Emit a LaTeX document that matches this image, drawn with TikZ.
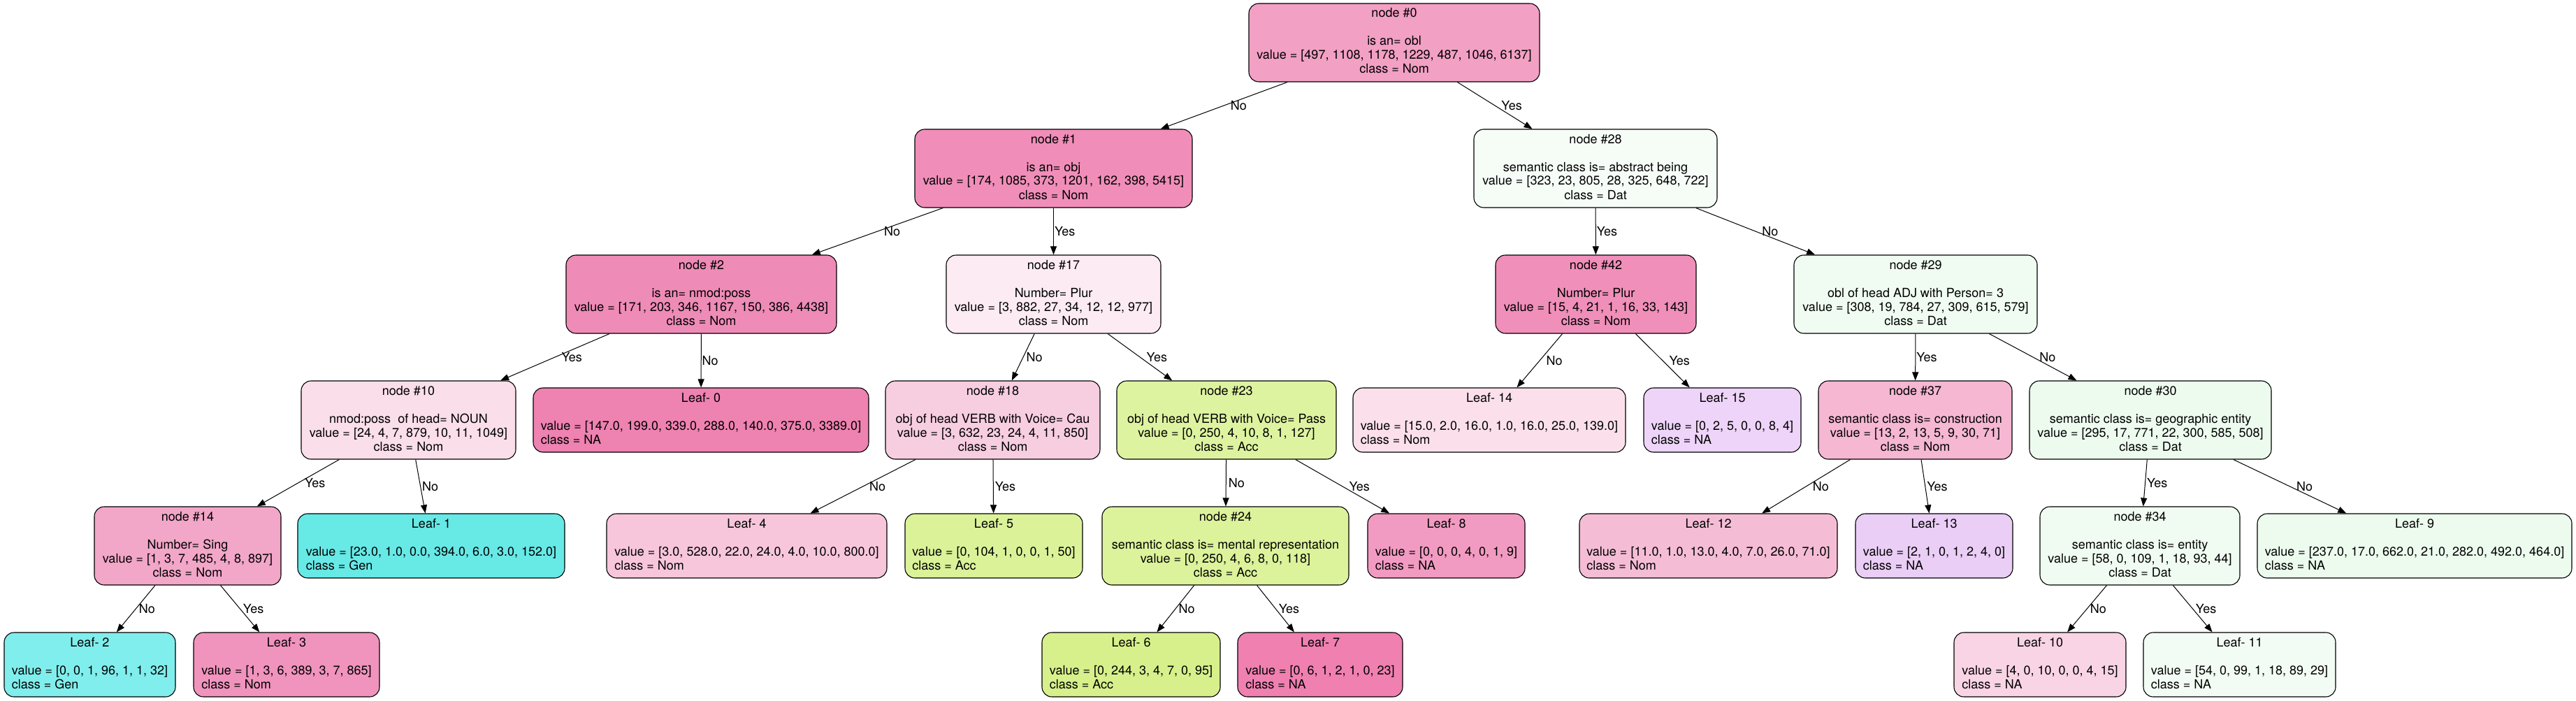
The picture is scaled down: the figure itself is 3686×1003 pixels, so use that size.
\documentclass[tikz,border=0pt]{standalone}
\usepackage{fontspec}
\setmainfont{TeX Gyre Heros}
\usetikzlibrary{arrows.meta}
\newcommand{\itxt}[4]{\begin{tabular}{@{}c@{}}#1\\ \\ #2\\ #3\\ #4\end{tabular}}
\newcommand{\ltxt}[3]{\begin{tabular}{@{}l@{}}\multicolumn{1}{@{}c@{}}{#1}\\ \\ #2\\ #3\end{tabular}}
\definecolor{c0}{RGB}{242,160,196}
\definecolor{c1}{RGB}{240,142,185}
\definecolor{c28}{RGB}{246,253,247}
\definecolor{c2}{RGB}{239,139,183}
\definecolor{c17}{RGB}{252,235,243}
\definecolor{c42}{RGB}{240,143,186}
\definecolor{c29}{RGB}{240,252,241}
\definecolor{c10}{RGB}{250,222,234}
\definecolor{cL0}{RGB}{238,130,177}
\definecolor{c18}{RGB}{247,205,224}
\definecolor{c23}{RGB}{222,243,160}
\definecolor{cL14}{RGB}{251,224,236}
\definecolor{cL15}{RGB}{238,212,248}
\definecolor{c37}{RGB}{245,183,210}
\definecolor{c30}{RGB}{237,251,239}
\definecolor{c14}{RGB}{242,166,200}
\definecolor{cL1}{RGB}{103,233,230}
\definecolor{cL4}{RGB}{247,198,219}
\definecolor{cL5}{RGB}{219,242,153}
\definecolor{c24}{RGB}{220,242,155}
\definecolor{cL8}{RGB}{242,155,194}
\definecolor{cL12}{RGB}{244,189,213}
\definecolor{cL13}{RGB}{234,206,246}
\definecolor{c34}{RGB}{240,252,241}
\definecolor{cL9}{RGB}{236,251,238}
\definecolor{cL2}{RGB}{128,238,236}
\definecolor{cL3}{RGB}{240,147,189}
\definecolor{cL6}{RGB}{215,240,139}
\definecolor{cL7}{RGB}{239,128,176}
\definecolor{cL10}{RGB}{248,212,228}
\definecolor{cL11}{RGB}{243,252,244}
\begin{document}
\begin{tikzpicture}[x=1pt,y=-1pt,
  box/.style={draw=black,line width=1.1pt,rectangle,rounded corners=14pt,
    inner xsep=8pt,inner ysep=6pt,anchor=center,
    font=\fontsize{18}{20}\selectfont,minimum width=#1},
  inode/.style={box=#1,minimum height=112pt},
  leaf/.style={box=#1,minimum height=92pt},
  edge/.style={line width=1pt,-{Triangle[length=12pt,width=9pt]}},
  lab/.style={anchor=west,inner sep=0pt,xshift=#1,font=\fontsize{18}{20}\selectfont},
  lab/.default=9pt]
\fill[white] (0,0) rectangle (3686,1003);
\useasboundingbox (0,0) rectangle (3686,1003);
% level 0
\node[inode=416pt,fill=c0] (n0) at (1995,61) {\itxt{node \#0}{is an= obl}{value = [497, 1108, 1178, 1229, 487, 1046, 6137]}{class = Nom}};
% level 1
\node[inode=397pt,fill=c1] (n1) at (1507.5,241) {\itxt{node \#1}{is an= obj}{value = [174, 1085, 373, 1201, 162, 398, 5415]}{class = Nom}};
\node[inode=348pt,fill=c28] (n28) at (2283,241) {\itxt{node \#28}{semantic class is= abstract being}{value = [323, 23, 805, 28, 325, 648, 722]}{class = Dat}};
% level 2
\node[inode=387pt,fill=c2] (n2) at (1003.5,421) {\itxt{node \#2}{is an= nmod:poss}{value = [171, 203, 346, 1167, 150, 386, 4438]}{class = Nom}};
\node[inode=307pt,fill=c17] (n17) at (1507.5,421) {\itxt{node \#17}{Number= Plur}{value = [3, 882, 27, 34, 12, 12, 977]}{class = Nom}};
\node[inode=287pt,fill=c42] (n42) at (2283.5,421) {\itxt{node \#42}{Number= Plur}{value = [15, 4, 21, 1, 16, 33, 143]}{class = Nom}};
\node[inode=348pt,fill=c29] (n29) at (2741,421) {\itxt{node \#29}{obl of head ADJ with Person= 3}{value = [308, 19, 784, 27, 309, 615, 579]}{class = Dat}};
% level 3
\node[inode=307pt,fill=c10] (n10) at (584.5,601) {\itxt{node \#10}{nmod:poss\ \ of head= NOUN}{value = [24, 4, 7, 879, 10, 11, 1049]}{class = Nom}};
\node[leaf=480pt,fill=cL0] (L0) at (1003,601) {\ltxt{Leaf- 0}{value = [147.0, 199.0, 339.0, 288.0, 140.0, 375.0, 3389.0]}{class = NA}};
\node[inode=307pt,fill=c18] (n18) at (1420.5,601) {\itxt{node \#18}{obj of head VERB with Voice= Cau}{value = [3, 632, 23, 24, 4, 11, 850]}{class = Nom}};
\node[inode=314pt,fill=c23] (n23) at (1755,601) {\itxt{node \#23}{obj of head VERB with Voice= Pass}{value = [0, 250, 4, 10, 8, 1, 127]}{class = Acc}};
\node[leaf=390pt,fill=cL14] (L14) at (2131,601) {\ltxt{Leaf- 14}{value = [15.0, 2.0, 16.0, 1.0, 16.0, 25.0, 139.0]}{class = Nom}};
\node[leaf=225pt,fill=cL15] (L15) at (2464.5,601) {\ltxt{Leaf- 15}{value = [0, 2, 5, 0, 0, 8, 4]}{class = NA}};
\node[inode=277pt,fill=c37] (n37) at (2740.5,601) {\itxt{node \#37}{semantic class is= construction}{value = [13, 2, 13, 5, 9, 30, 71]}{class = Nom}};
\node[inode=346pt,fill=c30] (n30) at (3077,601) {\itxt{node \#30}{semantic class is= geographic entity}{value = [295, 17, 771, 22, 300, 585, 508]}{class = Dat}};
% level 4
\node[inode=267pt,fill=c14] (n14) at (268.5,781) {\itxt{node \#14}{Number= Sing}{value = [1, 3, 7, 485, 4, 8, 897]}{class = Nom}};
\node[leaf=382pt,fill=cL1] (L1) at (617,781) {\ltxt{Leaf- 1}{value = [23.0, 1.0, 0.0, 394.0, 6.0, 3.0, 152.0]}{class = Gen}};
\node[leaf=401pt,fill=cL4] (L4) at (1068.5,781) {\ltxt{Leaf- 4}{value = [3.0, 528.0, 22.0, 24.0, 4.0, 10.0, 800.0]}{class = Nom}};
\node[leaf=254pt,fill=cL5] (L5) at (1422,781) {\ltxt{Leaf- 5}{value = [0, 104, 1, 0, 0, 1, 50]}{class = Acc}};
\node[inode=353pt,fill=c24] (n24) at (1753.5,781) {\itxt{node \#24}{semantic class is= mental representation}{value = [0, 250, 4, 6, 8, 0, 118]}{class = Acc}};
\node[leaf=225pt,fill=cL8] (L8) at (2069.5,781) {\ltxt{Leaf- 8}{value = [0, 0, 0, 4, 0, 1, 9]}{class = NA}};
\node[leaf=369pt,fill=cL12] (L12) at (2444.5,781) {\ltxt{Leaf- 12}{value = [11.0, 1.0, 13.0, 4.0, 7.0, 26.0, 71.0]}{class = Nom}};
\node[leaf=225pt,fill=cL13] (L13) at (2767.5,781) {\ltxt{Leaf- 13}{value = [2, 1, 0, 1, 2, 4, 0]}{class = NA}};
\node[inode=286pt,fill=c34] (n34) at (3062,781) {\itxt{node \#34}{semantic class is= entity}{value = [58, 0, 109, 1, 18, 93, 44]}{class = Dat}};
\node[leaf=450pt,fill=cL9] (L9) at (3455,781) {\ltxt{Leaf- 9}{value = [237.0, 17.0, 662.0, 21.0, 282.0, 492.0, 464.0]}{class = NA}};
% level 5
\node[leaf=245pt,fill=cL2] (L2) at (128.5,951) {\ltxt{Leaf- 2}{value = [0, 0, 1, 96, 1, 1, 32]}{class = Gen}};
\node[leaf=266pt,fill=cL3] (L3) at (410,951) {\ltxt{Leaf- 3}{value = [1, 3, 6, 389, 3, 7, 865]}{class = Nom}};
\node[leaf=255pt,fill=cL6] (L6) at (1618.5,951) {\ltxt{Leaf- 6}{value = [0, 244, 3, 4, 7, 0, 95]}{class = Acc}};
\node[leaf=236pt,fill=cL7] (L7) at (1889,951) {\ltxt{Leaf- 7}{value = [0, 6, 1, 2, 1, 0, 23]}{class = NA}};
\node[leaf=246pt,fill=cL10] (L10) at (2919,951) {\ltxt{Leaf- 10}{value = [4, 0, 10, 0, 0, 4, 15]}{class = NA}};
\node[leaf=275pt,fill=cL11] (L11) at (3204.5,951) {\ltxt{Leaf- 11}{value = [54, 0, 99, 1, 18, 89, 29]}{class = NA}};
% edges
\draw[edge] (n0) -- node[lab]{No} (n1);
\draw[edge] (n0) -- node[lab]{Yes} (n28);
\draw[edge] (n1) -- node[lab]{No} (n2);
\draw[edge] (n1) -- node[lab=1pt]{Yes} (n17);
\draw[edge] (n28) -- node[lab=1pt]{Yes} (n42);
\draw[edge] (n28) -- node[lab]{No} (n29);
\draw[edge] (n2) -- node[lab]{Yes} (n10);
\draw[edge] (n2) -- node[lab=1pt]{No} (L0);
\draw[edge] (n17) -- node[lab=4pt]{No} (n18);
\draw[edge] (n17) -- node[lab]{Yes} (n23);
\draw[edge] (n42) -- node[lab]{No} (L14);
\draw[edge] (n42) -- node[lab]{Yes} (L15);
\draw[edge] (n29) -- node[lab=1pt]{Yes} (n37);
\draw[edge] (n29) -- node[lab]{No} (n30);
\draw[edge] (n10) -- node[lab]{Yes} (n14);
\draw[edge] (n10) -- node[lab=2pt]{No} (L1);
\draw[edge] (n18) -- node[lab]{No} (L4);
\draw[edge] (n18) -- node[lab=2pt]{Yes} (L5);
\draw[edge] (n23) -- node[lab=3pt]{No} (n24);
\draw[edge] (n23) -- node[lab]{Yes} (L8);
\draw[edge] (n37) -- node[lab]{No} (L12);
\draw[edge] (n37) -- node[lab=2pt]{Yes} (L13);
\draw[edge] (n30) -- node[lab=2pt]{Yes} (n34);
\draw[edge] (n30) -- node[lab]{No} (L9);
\draw[edge] (n14) -- node[lab=4pt]{No} (L2);
\draw[edge] (n14) -- node[lab=4pt]{Yes} (L3);
\draw[edge] (n24) -- node[lab=4pt]{No} (L6);
\draw[edge] (n24) -- node[lab=4pt]{Yes} (L7);
\draw[edge] (n34) -- node[lab=4pt]{No} (L10);
\draw[edge] (n34) -- node[lab=4pt]{Yes} (L11);
\end{tikzpicture}
\end{document}
